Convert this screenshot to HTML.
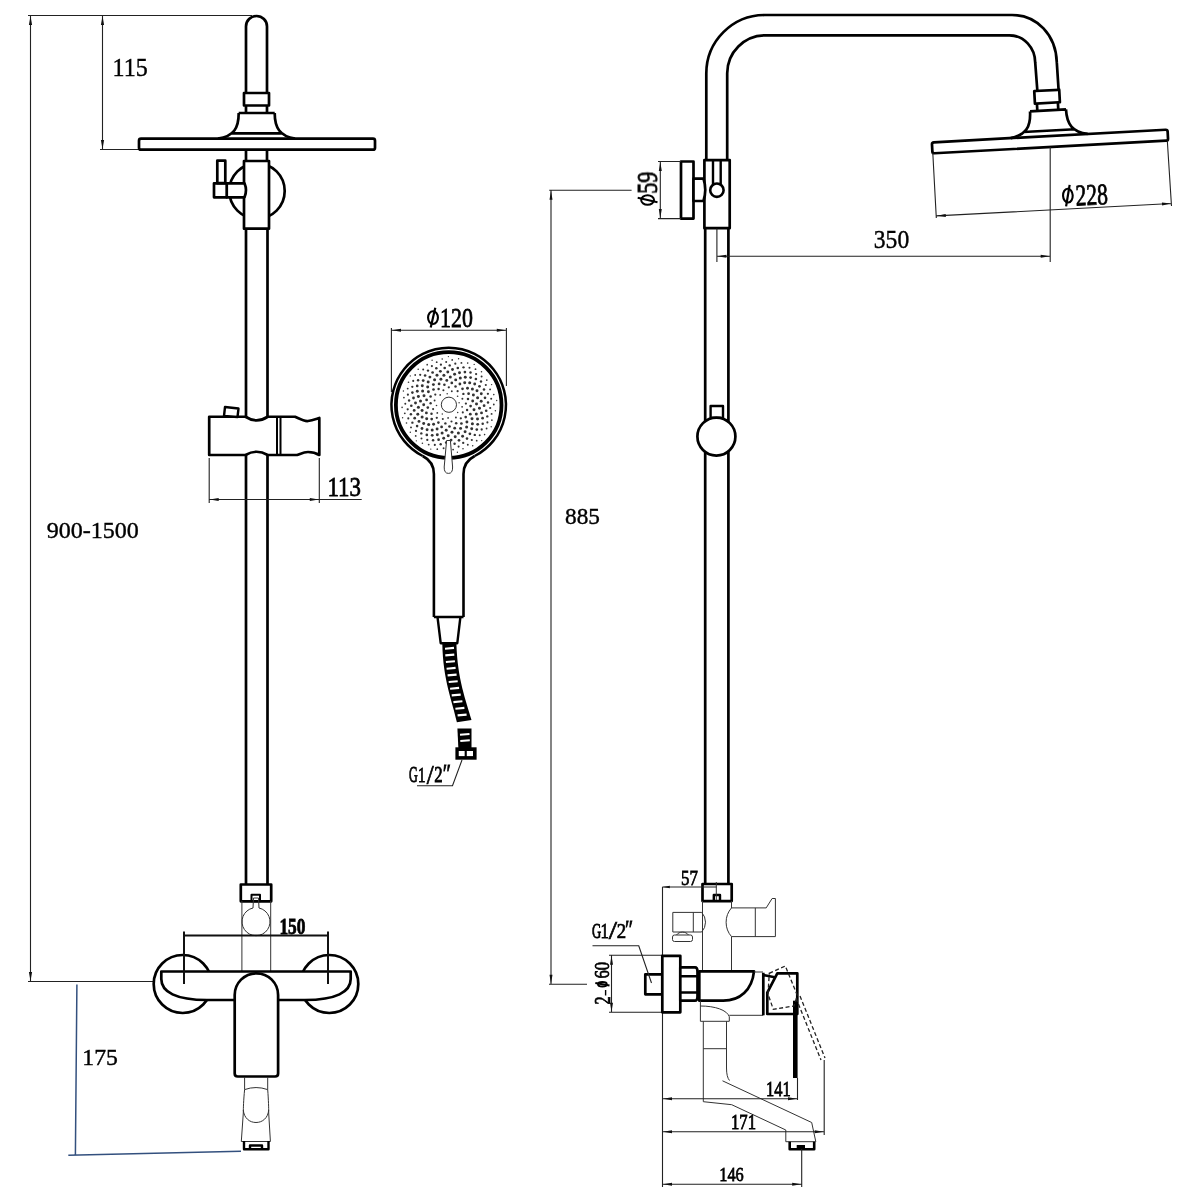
<!DOCTYPE html>
<html><head><meta charset="utf-8"><style>
html,body{margin:0;padding:0;background:#fff;}
svg{display:block;}
text{font-family:"Liberation Serif",serif;fill:#000;}
.tx{will-change:transform;}
.k{fill:none;stroke:#000;stroke-width:2.7;stroke-linejoin:round;}
.kw{fill:#fff;stroke:#000;stroke-width:2.7;stroke-linejoin:round;}
.d{fill:none;stroke:#222;stroke-width:1.1;}
.t{fill:none;stroke:#333;stroke-width:1;}
.a{fill:#111;stroke:none;}
</style></head><body>
<svg width="1200" height="1200" viewBox="0 0 1200 1200">


<!-- ============ LEFT FRONT VIEW ============ -->
<!-- dims -->
<path class="d" d="M28,15.5 H252 M30.5,15.5 V981.5 M102.5,15.5 V149.5 M100,149.5 H139 M28,981.5 H154"/>
<path class="a" d="M30.5,16 l-1.6,9 h3.2z M30.5,981 l-1.6,-9 h3.2z M102.5,16 l-1.6,9 h3.2z M102.5,149 l-1.6,-9 h3.2z"/>

<g>
  <path class="k" d="M246,93 V26.5 A10.5,10.5 0 0 1 267,26.5 V93"/>
  <rect class="k" x="244" y="93" width="25" height="12.5"/>
  <path class="k" d="M246,105.5 V113 M267,105.5 V113"/>
  <path class="k" d="M238.7,113 H274.7 M238.7,113 C238.7,128 234,136 218,138.7 M274.7,113 C274.7,128 280,136 295,138.7 M231,133.3 H282.5"/>
  <rect class="k" x="139" y="138.7" width="236" height="11" rx="2"/>
</g>
<!-- below disc -->
<path class="k" d="M246,150 V161 M267,150 V161"/>
<circle class="k" cx="257" cy="191" r="27.7"/>
<rect class="kw" x="244" y="161" width="25" height="67.7"/>
<path class="kw" d="M226.7,183.3 H244.5 Q247.5,190.3 244.5,197.3 H226.7 Z"/>
<rect class="kw" x="214" y="183.3" width="12.7" height="14"/>
<rect class="kw" x="217.3" y="160.7" width="8" height="22.5"/>

<!-- long pipe -->
<path class="k" d="M246,228.7 V884.5 M267.5,228.7 V884.5"/>

<!-- slide bracket -->
<path class="kw" d="M209.2,416.75 H245.5 Q256.5,424 267.7,416.75 H295 C300,419 304,421.5 308,421 C312,420.5 316,419 319.3,418 V455 C316,453 312,452 308,452 C304,452 300,454 297,455 H267.7 Q256.5,448.5 245.5,455 H209.2 Z"/>
<path class="k" d="M277,416.75 V455 M280.5,416.75 V455" style="stroke-width:2"/>
<path class="kw" d="M225,407 L238.5,408.5 L237.5,417 L224,416 Z" style="stroke-width:2.4"/>
<path class="d" d="M209.2,458 V503 M319.3,458 V503 M209.2,499.5 H361.7"/>
<path class="a" d="M209.7,499.5 l9,-1.5 v3z M318.8,499.5 l-9,-1.5 v3z"/>

<!-- bottom mixer front -->
<rect class="k" x="240.8" y="884.5" width="30.4" height="16.8"/>
<rect class="k" x="251.5" y="894.7" width="8.5" height="6.6" style="stroke-width:2"/>
<path class="t" d="M241.9,901 V971 M270.7,901 V971"/>
<path class="t" d="M253.5,898 H258.5 L259,908 A14,14 0 1 1 253,908 Z"/>
<circle class="k" cx="182.7" cy="984" r="29"/>
<circle class="k" cx="329.3" cy="984" r="29"/>
<path class="kw" d="M161.3,971.5 H350.7 V979 C350.7,992 336,1000 305,1000 H207 C176,1000 161.3,992 161.3,979 Z"/>

<path class="d" d="M184,935.5 H328 M184,931.5 V984 M328,931.5 V984" style="stroke-width:2;stroke:#111"/>
<path class="kw" d="M234.7,995 A21.7,21.7 0 0 1 278.1,995 V1073.5 Q278.1,1076.5 275.1,1076.5 H237.7 Q234.7,1076.5 234.7,1073.5 Z"/>
<path class="t" d="M244.6,1077 V1089.6 C243.6,1100 243.3,1108 243.3,1113 L241.3,1141.5 M267.7,1077 V1089.6 C268.5,1100 268.7,1108 268.7,1113 L270.4,1141.5 M244.6,1089.6 Q256,1085.5 267.7,1089.6 M243.3,1110 C244,1118 249.5,1122.5 256,1122.5 C262.5,1122.5 268,1118 268.7,1110 M241.3,1141.5 H270.4"/>
<path class="k" d="M244,1141 V1149.3 H268.5 V1141 M250,1149.3 V1145.5 H262 V1149.3" style="stroke-width:2.4"/>
<path fill="none" stroke="#33507e" stroke-width="1.5" d="M76.9,984.4 L75.4,1155.6 M68.3,1155.2 L241,1151.3"/>


<!-- ============ HAND SHOWER ============ -->
<path class="d" d="M391.4,328 V392 M506.4,328 V386 M391.4,330.3 H506.4"/>
<path class="a" d="M392,330.3 l9,-1.5 v3z M505.8,330.3 l-9,-1.5 v3z"/>
<path class="k" style="stroke-width:2.6" d="M422.7,456 C428,458.7 433.9,464 433.9,474 V617 M474.7,456 C469.4,458.7 463.5,464 463.5,474 V617 M433.9,617 H463.5"/>
<path class="k" style="stroke-width:2.5" d="M422.7,456 A57.25,57.25 0 1 1 474.7,456"/>
<circle class="k" cx="448.7" cy="405" r="52.8" style="stroke-width:3.8"/>
<g fill="#333"><circle cx="459.1" cy="402.7" r="0.69"/><circle cx="442.3" cy="414.0" r="0.72"/><circle cx="447.2" cy="393.7" r="0.75"/><circle cx="457.7" cy="412.6" r="0.77"/><circle cx="436.5" cy="405.5" r="0.80"/><circle cx="457.6" cy="396.2" r="0.82"/><circle cx="448.1" cy="417.9" r="0.85"/><circle cx="440.2" cy="394.9" r="0.87"/><circle cx="462.1" cy="406.8" r="0.89"/><circle cx="437.3" cy="412.9" r="0.91"/><circle cx="451.8" cy="391.2" r="0.93"/><circle cx="455.9" cy="417.5" r="0.95"/><circle cx="434.6" cy="400.5" r="0.97"/><circle cx="462.4" cy="398.7" r="0.99"/><circle cx="442.8" cy="419.1" r="1.01"/><circle cx="443.4" cy="390.3" r="1.03"/><circle cx="462.8" cy="412.4" r="1.04"/><circle cx="433.1" cy="409.1" r="1.06"/><circle cx="457.6" cy="391.2" r="1.08"/><circle cx="451.5" cy="421.5" r="1.09"/><circle cx="435.3" cy="394.6" r="1.11"/><circle cx="465.9" cy="403.6" r="1.12"/><circle cx="436.8" cy="417.8" r="1.14"/><circle cx="448.8" cy="387.3" r="1.15"/><circle cx="460.8" cy="418.3" r="1.16"/><circle cx="430.6" cy="403.3" r="1.18"/><circle cx="463.4" cy="393.9" r="1.19"/><circle cx="445.4" cy="423.4" r="1.20"/><circle cx="438.6" cy="389.0" r="1.21"/><circle cx="467.1" cy="410.1" r="1.23"/><circle cx="431.5" cy="413.8" r="1.24"/><circle cx="455.5" cy="386.6" r="1.25"/><circle cx="456.2" cy="423.3" r="1.26"/><circle cx="430.6" cy="396.4" r="1.27"/><circle cx="468.0" cy="399.0" r="1.28"/><circle cx="438.4" cy="422.6" r="1.29"/><circle cx="444.4" cy="384.8" r="1.30"/><circle cx="465.7" cy="417.1" r="1.31"/><circle cx="427.8" cy="407.6" r="1.32"/><circle cx="462.5" cy="388.8" r="1.33"/><circle cx="449.5" cy="426.5" r="1.34"/><circle cx="433.5" cy="389.5" r="1.34"/><circle cx="470.6" cy="406.1" r="1.35"/><circle cx="431.7" cy="419.1" r="1.36"/><circle cx="451.8" cy="382.9" r="1.37"/><circle cx="461.4" cy="423.5" r="1.37"/><circle cx="426.6" cy="399.9" r="1.38"/><circle cx="468.6" cy="393.7" r="1.39"/><circle cx="441.6" cy="426.9" r="1.39"/><circle cx="439.1" cy="383.9" r="1.40"/><circle cx="470.3" cy="414.2" r="1.41"/><circle cx="426.4" cy="412.9" r="1.41"/><circle cx="459.9" cy="384.0" r="1.42"/><circle cx="454.7" cy="428.2" r="1.42"/><circle cx="428.4" cy="391.8" r="1.43"/><circle cx="472.7" cy="401.0" r="1.43"/><circle cx="433.6" cy="424.3" r="1.44"/><circle cx="446.8" cy="380.4" r="1.44"/><circle cx="466.9" cy="422.0" r="1.45"/><circle cx="423.7" cy="404.7" r="1.45"/><circle cx="467.5" cy="388.2" r="1.45"/><circle cx="446.2" cy="430.3" r="1.46"/><circle cx="433.4" cy="384.6" r="1.46"/><circle cx="474.0" cy="409.7" r="1.47"/><circle cx="426.7" cy="418.7" r="1.47"/><circle cx="455.7" cy="379.9" r="1.47"/><circle cx="460.6" cy="428.4" r="1.47"/><circle cx="424.0" cy="395.7" r="1.48"/><circle cx="473.4" cy="395.1" r="1.48"/><circle cx="437.1" cy="429.1" r="1.48"/><circle cx="440.9" cy="379.3" r="1.48"/><circle cx="472.0" cy="418.8" r="1.49"/><circle cx="422.1" cy="410.6" r="1.49"/><circle cx="464.7" cy="382.8" r="1.49"/><circle cx="452.0" cy="432.3" r="1.49"/><circle cx="427.7" cy="386.9" r="1.49"/><circle cx="476.5" cy="404.1" r="1.49"/><circle cx="428.7" cy="424.5" r="1.50"/><circle cx="450.3" cy="376.9" r="1.50"/><circle cx="466.6" cy="426.9" r="1.50"/><circle cx="420.5" cy="400.9" r="1.50"/><circle cx="472.4" cy="388.9" r="1.50"/><circle cx="442.1" cy="433.0" r="1.50"/><circle cx="434.6" cy="379.8" r="1.50"/><circle cx="476.3" cy="414.1" r="1.50"/><circle cx="422.1" cy="417.0" r="1.50"/><circle cx="460.3" cy="378.0" r="1.50"/><circle cx="458.4" cy="432.9" r="1.50"/><circle cx="422.6" cy="390.9" r="1.50"/><circle cx="477.6" cy="397.7" r="1.50"/><circle cx="432.2" cy="430.0" r="1.50"/><circle cx="443.9" cy="375.3" r="1.50"/><circle cx="472.4" cy="423.8" r="1.50"/><circle cx="418.4" cy="407.2" r="1.50"/><circle cx="469.7" cy="382.8" r="1.50"/><circle cx="448.2" cy="435.7" r="1.49"/><circle cx="428.2" cy="382.0" r="1.49"/><circle cx="479.5" cy="408.2" r="1.49"/><circle cx="423.7" cy="423.5" r="1.49"/><circle cx="454.6" cy="374.3" r="1.49"/><circle cx="465.1" cy="431.7" r="1.49"/><circle cx="418.4" cy="396.4" r="1.49"/><circle cx="477.0" cy="390.8" r="1.48"/><circle cx="437.3" cy="434.7" r="1.48"/><circle cx="437.0" cy="375.3" r="1.48"/><circle cx="477.5" cy="419.0" r="1.48"/><circle cx="417.8" cy="414.2" r="1.48"/><circle cx="465.3" cy="377.3" r="1.47"/><circle cx="455.2" cy="436.8" r="1.47"/><circle cx="422.3" cy="385.8" r="1.47"/><circle cx="481.2" cy="401.3" r="1.47"/><circle cx="427.1" cy="429.8" r="1.46"/><circle cx="447.8" cy="372.0" r="1.46"/><circle cx="471.7" cy="428.8" r="1.46"/><circle cx="415.5" cy="403.0" r="1.45"/><circle cx="474.7" cy="384.0" r="1.45"/><circle cx="443.7" cy="438.2" r="1.45"/><circle cx="429.9" cy="377.1" r="1.45"/><circle cx="481.5" cy="412.9" r="1.44"/><circle cx="419.0" cy="421.4" r="1.44"/><circle cx="459.5" cy="372.7" r="1.44"/><circle cx="462.6" cy="436.2" r="1.43"/><circle cx="417.3" cy="391.3" r="1.43"/><circle cx="481.3" cy="393.8" r="1.43"/><circle cx="432.2" cy="435.3" r="1.42"/><circle cx="440.4" cy="371.3" r="1.42"/><circle cx="477.7" cy="424.3" r="1.41"/><circle cx="414.2" cy="410.4" r="1.41"/><circle cx="470.6" cy="377.6" r="1.41"/><circle cx="451.1" cy="440.1" r="1.40"/><circle cx="423.2" cy="380.6" r="1.40"/><circle cx="484.1" cy="405.7" r="1.39"/><circle cx="422.0" cy="428.5" r="1.39"/><circle cx="452.5" cy="369.5" r="1.39"/><circle cx="469.9" cy="433.8" r="1.38"/><circle cx="413.5" cy="398.0" r="1.38"/><circle cx="479.5" cy="386.3" r="1.37"/><circle cx="438.6" cy="439.7" r="1.37"/><circle cx="432.6" cy="372.5" r="1.36"/><circle cx="482.6" cy="418.2" r="1.36"/><circle cx="414.7" cy="418.2" r="1.36"/><circle cx="464.9" cy="372.1" r="1.35"/><circle cx="459.0" cy="440.3" r="1.35"/><circle cx="417.2" cy="385.9" r="1.34"/><circle cx="485.0" cy="397.8" r="1.34"/><circle cx="426.8" cy="434.9" r="1.33"/><circle cx="444.7" cy="368.0" r="1.33"/><circle cx="476.8" cy="429.6" r="1.32"/><circle cx="411.3" cy="405.8" r="1.32"/><circle cx="475.9" cy="379.0" r="1.31"/><circle cx="446.2" cy="442.6" r="1.31"/><circle cx="425.1" cy="375.5" r="1.30"/><circle cx="486.2" cy="410.8" r="1.30"/><circle cx="417.1" cy="426.1" r="1.29"/><circle cx="457.8" cy="368.0" r="1.29"/><circle cx="467.0" cy="438.6" r="1.28"/><circle cx="412.4" cy="392.6" r="1.28"/><circle cx="484.0" cy="389.6" r="1.27"/><circle cx="433.1" cy="440.3" r="1.26"/><circle cx="436.3" cy="368.3" r="1.26"/><circle cx="482.7" cy="423.8" r="1.25"/><circle cx="410.9" cy="414.2" r="1.25"/><circle cx="470.5" cy="372.6" r="1.24"/><circle cx="454.6" cy="443.7" r="1.24"/><circle cx="418.1" cy="380.3" r="1.23"/><circle cx="488.0" cy="402.5" r="1.23"/><circle cx="421.3" cy="433.4" r="1.22"/><circle cx="449.7" cy="365.4" r="1.21"/><circle cx="474.8" cy="434.9" r="1.21"/><circle cx="409.1" cy="400.5" r="1.20"/><circle cx="481.0" cy="381.5" r="1.20"/><circle cx="440.7" cy="444.2" r="1.19"/><circle cx="428.0" cy="370.6" r="1.19"/><circle cx="487.3" cy="416.4" r="1.18"/><circle cx="412.4" cy="422.7" r="1.17"/><circle cx="463.5" cy="367.3" r="1.17"/><circle cx="463.2" cy="442.9" r="1.16"/><circle cx="412.3" cy="386.8" r="1.16"/><circle cx="487.9" cy="393.8" r="1.15"/><circle cx="427.3" cy="439.9" r="1.14"/><circle cx="440.9" cy="364.7" r="1.14"/><circle cx="481.7" cy="429.5" r="1.13"/><circle cx="407.7" cy="409.3" r="1.13"/><circle cx="476.1" cy="374.1" r="1.12"/><circle cx="449.4" cy="446.4" r="1.11"/><circle cx="420.2" cy="374.8" r="1.11"/><circle cx="490.2" cy="408.0" r="1.10"/><circle cx="416.0" cy="430.9" r="1.10"/><circle cx="455.3" cy="363.7" r="1.09"/><circle cx="471.8" cy="440.0" r="1.08"/><circle cx="407.9" cy="394.7" r="1.08"/><circle cx="485.8" cy="385.0" r="1.07"/><circle cx="434.8" cy="444.9" r="1.06"/><circle cx="431.9" cy="366.1" r="1.06"/><circle cx="487.4" cy="422.4" r="1.05"/><circle cx="408.3" cy="418.4" r="1.05"/><circle cx="469.5" cy="367.7" r="1.04"/><circle cx="458.6" cy="446.6" r="1.03"/><circle cx="413.2" cy="380.9" r="1.03"/><circle cx="491.2" cy="398.8" r="1.02"/><circle cx="421.5" cy="438.4" r="1.01"/><circle cx="446.2" cy="361.9" r="1.01"/><circle cx="479.7" cy="435.2" r="1.00"/><circle cx="405.3" cy="403.7" r="0.99"/><circle cx="481.6" cy="376.6" r="0.99"/><circle cx="443.6" cy="448.3" r="0.98"/><circle cx="423.2" cy="369.5" r="0.98"/><circle cx="491.6" cy="413.9" r="0.97"/><circle cx="411.0" cy="427.4" r="0.96"/><circle cx="461.4" cy="362.9" r="0.96"/><circle cx="467.8" cy="444.7" r="0.95"/><circle cx="407.7" cy="388.6" r="0.94"/><circle cx="490.1" cy="389.4" r="0.94"/><circle cx="428.7" cy="444.6" r="0.93"/><circle cx="436.7" cy="362.2" r="0.92"/><circle cx="486.6" cy="428.5" r="0.92"/><circle cx="404.8" cy="413.3" r="0.91"/><circle cx="475.5" cy="369.2" r="0.91"/><circle cx="453.1" cy="449.6" r="0.90"/><circle cx="415.2" cy="375.0" r="0.89"/><circle cx="493.8" cy="404.5" r="0.89"/><circle cx="415.7" cy="435.9" r="0.88"/><circle cx="452.2" cy="359.9" r="0.87"/><circle cx="476.7" cy="440.7" r="0.87"/><circle cx="403.9" cy="397.6" r="0.86"/><circle cx="486.8" cy="380.1" r="0.85"/><circle cx="437.3" cy="449.2" r="0.85"/><circle cx="427.2" cy="364.7" r="0.84"/><circle cx="491.9" cy="420.2" r="0.83"/><circle cx="406.5" cy="423.0" r="0.83"/><circle cx="467.7" cy="363.1" r="0.82"/><circle cx="463.0" cy="448.8" r="0.82"/><circle cx="408.5" cy="382.3" r="0.81"/><circle cx="493.8" cy="394.6" r="0.80"/><circle cx="422.4" cy="443.2" r="0.80"/><circle cx="442.2" cy="359.0" r="0.79"/><circle cx="484.6" cy="434.6" r="0.78"/><circle cx="402.1" cy="407.4" r="0.78"/><circle cx="481.5" cy="371.7" r="0.77"/><circle cx="447.1" cy="451.8" r="0.76"/><circle cx="418.2" cy="369.3" r="0.76"/><circle cx="495.4" cy="410.8" r="0.75"/><circle cx="410.3" cy="432.3" r="0.74"/><circle cx="458.6" cy="358.8" r="0.74"/><circle cx="472.7" cy="445.8" r="0.73"/><circle cx="403.4" cy="391.1" r="0.73"/><circle cx="491.6" cy="384.6" r="0.72"/><circle cx="430.8" cy="449.1" r="0.71"/><circle cx="432.1" cy="360.3" r="0.71"/><circle cx="491.2" cy="426.8" r="0.70"/><circle cx="402.6" cy="417.7" r="0.69"/><circle cx="474.2" cy="364.4" r="0.69"/><circle cx="457.4" cy="452.3" r="0.68"/><circle cx="410.3" cy="375.9" r="0.68"/><circle cx="496.7" cy="400.5" r="0.67"/><circle cx="416.3" cy="440.8" r="0.66"/><circle cx="448.4" cy="356.6" r="0.66"/><circle cx="481.7" cy="440.6" r="0.65"/></g>
<circle class="t" cx="448.9" cy="404.75" r="7.6" style="fill:#fff"/>
<path class="t" style="fill:#fff" d="M446.6,440.5 H450.4 L452.6,467 Q452.8,473.4 448.5,473.4 Q444,473.4 444.2,467 Z"/>
<path class="k" d="M437.5,617 L440.7,643.2 H457.3 L460.4,617" style="stroke-width:2.4"/>
<path fill="#000" d="M442.3,643.5 C443,680 452,700 456.9,722.3 L471.5,720 C466,700 457.5,680 456.4,643.5 Z"/>
<path stroke="#fff" stroke-width="2.1" fill="none" d="M445.0,648.7 L454.0,647.9 M445.3,655.4 L454.3,654.6 M445.9,662.0 L454.9,661.2 M446.6,668.7 L455.6,667.9 M447.6,675.4 L456.6,674.6 M448.7,682.0 L457.7,681.2 M450.1,688.7 L459.1,687.9 M451.7,695.4 L460.7,694.6 M453.4,702.1 L462.4,701.3 M455.4,708.7 L464.4,707.9 M457.6,715.4 L466.6,714.6"/>
<path fill="#000" d="M457.4,728.5 H471.5 V749 H458.4 Z"/>
<path stroke="#fff" stroke-width="2.1" fill="none" d="M460,734.8 L469.5,734 M460.3,741 L469.8,740.2"/>
<rect x="455.4" y="747.3" width="21.2" height="12.4" fill="#000"/>
<rect x="458.75" y="751" width="5.9" height="5.1" fill="#fff"/>
<rect x="466.8" y="751" width="6.2" height="5.1" fill="#fff"/>
<path class="d" d="M462,760 L452.5,785.7 H417"/>


<!-- ============ RIGHT SIDE VIEW ============ -->
<path class="k" d="M706.3,160 V73.5 A58.5,58.5 0 0 1 764.8,15 H1012 C1037,15 1056,35 1056.8,62.4 L1058.6,90 M727.2,160 V73.3 A38,38 0 0 1 765.2,35.3 H1009.4 C1024,35.3 1035,48 1035.2,62.4 L1037.3,90"/>
<g transform="translate(1050,141.5) rotate(-3.1) translate(-257,-144.2)">
  <rect class="k" x="244" y="93" width="25" height="12.5"/>
  <path class="k" d="M246,105.5 V113 M267,105.5 V113"/>
  <path class="k" d="M238.7,113 H274.7 M238.7,113 C238.7,128 234,136 218,138.7 M274.7,113 C274.7,128 280,136 295,138.7 M231,133.3 H282.5"/>
  <rect class="k" x="139" y="138.7" width="236" height="11" rx="2"/>
</g>
<!-- bracket -->
<rect class="kw" x="704.4" y="160.1" width="25.3" height="68.1"/>
<path class="k" style="stroke-width:2.4" d="M713,160.1 V184 M720.7,160.1 V184"/>
<circle class="kw" cx="716.9" cy="190.2" r="6.7" style="stroke-width:2.6"/>
<rect class="kw" x="681" y="161.5" width="12.5" height="57.1"/>
<path class="kw" d="M693.5,178.7 H703.5 Q707,189.8 703.5,201 H693.5 Z"/>
<path class="k" d="M705.2,228.2 V884 M728.4,228.2 V884"/>
<rect class="kw" x="710.6" y="406" width="12.4" height="12" style="stroke-width:2.4"/>
<circle class="kw" cx="716.4" cy="436.6" r="19"/>
<!-- dims -->
<path class="d" d="M658,161.5 H681 M658,218.6 H681 M660.3,161.5 V218.6"/>
<path class="a" d="M660.3,162 l-1.5,9 h3z M660.3,218.1 l-1.5,-9 h3z"/>
<path class="d" d="M549.2,190.2 H631.6 M551,190.2 V984.3 M549,984.3 H587"/>
<path class="a" d="M551,190.7 l-1.5,9 h3z M551,983.8 l-1.5,-9 h3z"/>
<path class="d" d="M716.9,228.5 V262 M1050.2,147 V262 M716.9,256.3 H1050.2"/>
<path class="a" d="M717.4,256.3 l9,-1.5 v3z M1049.7,256.3 l-9,-1.5 v3z"/>
<path class="d" d="M932.8,153 L936.3,218 M1167.3,140.5 L1171.5,206 M936.3,215.9 L1171.5,203.5"/>
<g transform="translate(936.3,215.9) rotate(-3.02)"><path class="a" d="M0.5,0 l9,-1.5 v3z"/></g>
<g transform="translate(1171.5,203.5) rotate(-3.02)"><path class="a" d="M-0.5,0 l-9,-1.5 v3z"/></g>


<!-- ============ SIDE VIEW MIXER ============ -->
<rect class="k" x="702.5" y="884" width="29.2" height="17.1"/>
<path class="k" d="M713.8,901 V895 H720 V901" style="stroke-width:2.4"/>
<path class="t" d="M716.3,882 V900 M702.5,901 V972 M731.5,901 V908 M731.5,936.6 V972"/>
<path class="d" d="M662.3,887 H716.5 M662.5,887 V1187"/>
<path class="a" d="M662.8,887 l7,-1.3 v2.6z"/>
<path class="t" d="M701.7,912.4 H672.8 V932 H701.7 A14.5,14.5 0 0 0 701.7,912.4 Z M693.3,912.4 V932"/>
<rect class="t" x="672.5" y="935" width="20" height="6.5" rx="2"/>
<path class="t" d="M676.5,935 A7,6 0 0 1 688.5,935"/>
<path class="t" d="M731.5,907.9 H766.2 L772.1,898.5 H775.4 V936.6 H731.5 A21.8,21.8 0 0 1 731.5,907.9 Z M755.3,907.9 V936.6"/>
<path class="d" d="M609,955.3 H662 M609,1012.3 H662 M611.5,955.3 V1012.3"/>
<path class="a" d="M611.5,955.8 l-1.5,9 h3z M611.5,1011.8 l-1.5,-9 h3z"/>
<rect class="kw" x="645.3" y="974.4" width="17" height="19.9"/>
<rect class="kw" x="662.3" y="955.8" width="18" height="56.5"/>
<path class="d" d="M592.5,945.7 H638.75 L651.5,983"/>
<path class="kw" d="M680.3,967.4 H695 Q697.5,967.4 697.5,972 V996 Q697.5,1000.7 695,1000.7 H680.3 Z"/>
<path class="k" d="M680.3,976.2 H697.3 M680.3,992.5 H697.3" style="stroke-width:2.4"/>
<path class="kw" d="M699.3,971.3 H754 C752,990 740,1000.7 723.3,1000.7 H699.3 Z"/>
<path class="t" d="M754,972 H763 M700.4,1000.7 V1021.3 M700.4,1006 C715,1006 727,1010 729.3,1016.7 V1021.3 M700.4,1021.3 H729.3 M729.3,1015.3 H763.3"/>
<path class="k" d="M763.3,972.7 V1015.3 M763.3,975 L774.7,977.3"/>
<path class="k" d="M777.3,973.3 H797.3 V1014 H767.3 V992.7 Z"/>
<path d="M795.3,1000.7 V1078" stroke="#000" stroke-width="4.6" fill="none"/>
<path fill="none" stroke="#222" stroke-width="1.3" stroke-dasharray="4,2.5" d="M769.3,973.3 L785.3,966 L797.3,995.3 L794,1006 L773.3,1009.3 L768,994 Z M796,998 L821,1060 M800,996 L825,1058"/>
<path class="t" d="M703.3,1021.3 V1101.7 L731.7,1104.7 L785.8,1130 V1141.7 M726.5,1021.3 V1068 Q726.5,1077 729.5,1080.5 M722.5,1080.8 L811.7,1122.5 L815.8,1141.7 M785.8,1141.7 H815.8 M703.3,1048.7 H726.5"/>
<path class="k" d="M789.7,1141.7 V1149.2 H814.2 V1141.7" style="stroke-width:2.6"/>
<rect x="796.7" y="1145" width="8.3" height="4.2" fill="#000"/>
<path class="d" d="M662.5,1098.7 H797.5 M797.5,1078 V1100 M662.5,1131.7 H824.2 M824.2,1060 V1135 M662.5,1184.2 H801.7 M801.7,1149 V1187"/>
<path class="a" d="M663,1098.7 l9,-1.5 v3z M797,1098.7 l-9,-1.5 v3z M663,1131.7 l9,-1.5 v3z M823.7,1131.7 l-9,-1.5 v3z M663,1184.2 l9,-1.5 v3z M801.2,1184.2 l-9,-1.5 v3z"/>

<g class="tx"><text transform="matrix(0.2406 0 0 0.2493 112.53 76.45)" font-size="100" stroke="#000" stroke-width="1.63">115</text>
<text transform="matrix(0.2407 0 0 0.2368 46.68 537.83)" font-size="100" stroke="#000" stroke-width="1.68">900-1500</text>
<text transform="matrix(0.2293 0 0 0.2687 327.44 495.73)" font-size="100" stroke="#000" stroke-width="2.81">113</text>
<text transform="matrix(0.1739 0 0 0.2397 279.41 933.72)" font-size="100" font-weight="bold" stroke="#000" stroke-width="3.38">150</text>
<text transform="matrix(0.2372 0 0 0.2269 82.36 1065.47)" font-size="100" stroke="#000" stroke-width="1.72">175</text>
<text transform="matrix(0.2190 0 0 0.2831 440.03 326.68)" font-size="100" stroke="#000" stroke-width="2.79">120</text>
<text transform="matrix(0.1215 0 0 0.2209 409.11 781.66)" font-size="100" stroke="#000" stroke-width="4.09">G</text>
<text transform="matrix(0.1500 0 0 0.2167 417.90 781.80)" font-size="100" stroke="#000" stroke-width="3.82">1</text>
<text transform="matrix(0.2500 0 0 0.2742 426.80 783.63)" font-size="100" stroke="#000" stroke-width="2.67">/</text>
<text transform="matrix(0.1675 0 0 0.2246 434.33 782.10)" font-size="100" stroke="#000" stroke-width="3.57">2</text>
<text transform="matrix(0.1967 0 0 0.2522 442.82 781.89)" font-size="100" stroke="#000" stroke-width="3.12">&#8243;</text>
<text transform="matrix(0 -0.2222 0.2879 0 656.81 193.83)" font-size="100" stroke="#000" stroke-width="2.74">59</text>
<text transform="matrix(0.2324 0 0 0.2299 565.07 523.94)" font-size="100" stroke="#000" stroke-width="1.73">885</text>
<text transform="matrix(0.2358 0 0 0.2463 873.82 248.01)" font-size="100" stroke="#000" stroke-width="1.66">350</text>
<g transform="rotate(-2.5 1091.8 195.2)"><text transform="matrix(0.2148 0 0 0.3000 1075.64 204.70)" font-size="100" stroke="#000" stroke-width="2.72">228</text></g>
<text transform="matrix(0.1681 0 0 0.2136 680.99 884.89)" font-size="100" stroke="#000" stroke-width="3.67">57</text>
<text transform="matrix(0.1277 0 0 0.2104 591.99 937.88)" font-size="100" stroke="#000" stroke-width="4.14">G</text>
<text transform="matrix(0.1657 0 0 0.2045 600.61 937.90)" font-size="100" stroke="#000" stroke-width="3.78">1</text>
<text transform="matrix(0.2982 0 0 0.2591 608.75 938.94)" font-size="100" stroke="#000" stroke-width="2.51">/</text>
<text transform="matrix(0.1875 0 0 0.2108 616.75 937.90)" font-size="100" stroke="#000" stroke-width="3.52">2</text>
<text transform="matrix(0.1950 0 0 0.2522 625.08 938.09)" font-size="100" stroke="#000" stroke-width="3.13">&#8243;</text>
<text transform="matrix(0 -0.1625 0.2262 0 609.80 1004.55)" font-size="100" stroke="#000" stroke-width="3.60">2</text>
<text transform="matrix(0 -0.1663 0.2194 0 609.36 978.57)" font-size="100" stroke="#000" stroke-width="3.63">60</text>
<text transform="matrix(0.1644 0 0 0.2091 766.02 1096.30)" font-size="100" stroke="#000" stroke-width="3.75">141</text>
<text transform="matrix(0.1667 0 0 0.2030 731.00 1129.20)" font-size="100" stroke="#000" stroke-width="3.79">171</text>
<text transform="matrix(0.1630 0 0 0.1971 719.33 1181.31)" font-size="100" stroke="#000" stroke-width="3.89">146</text>
<ellipse cx="433.00" cy="317.62" rx="4.95" ry="6.36" fill="none" stroke="#000" stroke-width="2.1"/><path d="M430.72,327.50 L435.28,307.75" stroke="#000" stroke-width="2.2" fill="none"/>
<g transform="rotate(-2.5 1067.9 195.6)"><ellipse cx="1067.88" cy="195.62" rx="4.83" ry="6.92" fill="none" stroke="#000" stroke-width="2.1"/><path d="M1065.64,206.25 L1070.11,185.00" stroke="#000" stroke-width="2.2" fill="none"/></g>
<ellipse cx="647.60" cy="200.00" rx="6.42" ry="4.80" fill="none" stroke="#000" stroke-width="2.0"/><path d="M657.50,202.20 L637.70,197.80" stroke="#000" stroke-width="2.0" fill="none"/>
<ellipse cx="602.40" cy="984.30" rx="4.33" ry="2.20" fill="none" stroke="#000" stroke-width="2.0"/><path d="M609.50,985.52 L595.30,983.08" stroke="#000" stroke-width="2.0" fill="none"/>
<path d="M605.6,990 V995.5" stroke="#000" stroke-width="1.4"/></g>
</svg>
</body></html>
